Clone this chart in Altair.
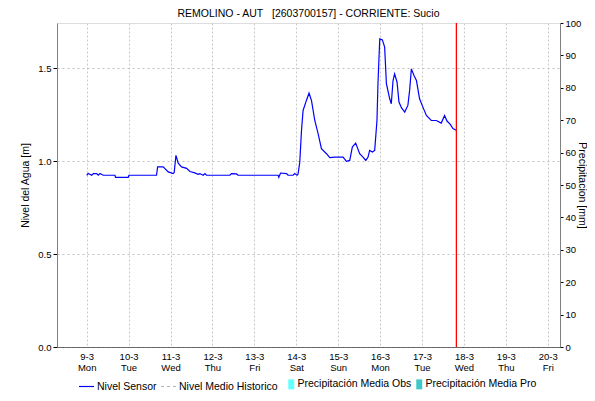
import altair as alt
import pandas as pd

TITLE = "REMOLINO - AUT\u00a0\u00a0\u00a0[2603700157] - CORRIENTE: Sucio"
START = "2026-03-09 00:00"
FONT = "Liberation Sans"

# hours since 9-3 00:00 and water level [m]
hours = [0, 0.9, 2.9, 3.8, 5.7, 6.6, 7.6, 9.5, 16.2, 16.5, 23.8, 24.2, 40.0, 40.6,
         43.8, 46.7, 49.5, 50.1, 51.1, 52.4, 54.3, 57.2, 59.1, 61.9, 63.8, 64.8,
         66.7, 67.7, 68.6, 82.0, 82.9, 85.8, 86.7, 109.6, 110.0, 111.0, 114.4,
         115.3, 118.2, 119.1, 120.5, 121.0, 122.0, 123.0, 123.9, 125.8, 127.3,
         128.7, 130.6, 132.5, 134.4, 137.3, 139.2, 142.0, 146.8, 148.7, 150.6,
         152.1, 154.0, 156.3, 158.2, 159.8, 161.1, 162.0, 163.6, 164.9, 166.2,
         166.8, 167.8, 169.3, 170.6, 171.6, 173.5, 174.4, 175.4, 176.3, 177.7,
         178.8, 180.2, 182.1, 183.9, 184.9, 185.9, 187.4, 188.8, 190.6, 192.5,
         194.5, 197.3, 200.2, 203.0, 204.9, 206.3, 208.2, 209.7, 211.6]
nivel = [0.925, 0.934, 0.925, 0.934, 0.934, 0.925, 0.934, 0.925, 0.925, 0.914,
         0.914, 0.925, 0.925, 0.970, 0.970, 0.943, 0.934, 0.940, 1.032, 0.990,
         0.970, 0.962, 0.945, 0.938, 0.930, 0.934, 0.925, 0.934, 0.925, 0.925,
         0.934, 0.932, 0.925, 0.925, 0.914, 0.937, 0.934, 0.925, 0.925, 0.934,
         0.925, 0.930, 0.996, 1.167, 1.274, 1.328, 1.367, 1.328, 1.220, 1.149,
         1.068, 1.041, 1.020, 1.023, 1.023, 1.000, 1.005, 1.077, 1.098, 1.041,
         1.023, 1.005, 1.023, 1.059, 1.050, 1.059, 1.220, 1.426, 1.660, 1.654,
         1.615, 1.418, 1.337, 1.310, 1.435, 1.471, 1.426, 1.319, 1.289, 1.265,
         1.301, 1.382, 1.498, 1.462, 1.435, 1.337, 1.292, 1.247, 1.220, 1.220,
         1.206, 1.247, 1.217, 1.199, 1.176, 1.167]
assert len(hours) == len(nivel)

now_time = ["2026-03-17T19:40:00"]
day_ticks = [9, 10, 11, 12, 13, 14, 15, 16, 17, 18, 19, 20]
level_ticks = [0.0, 0.5, 1.0, 1.5]
precip_ticks = [0, 10, 20, 30, 40, 50, 60, 70, 80, 90, 100]

line_items = ["Nivel Sensor", "Nivel Medio Historico"]
line_colors = ["#0000ff", "#b4b4b4"]
line_shapes = [
    "M-1,-0.08H1V0.08H-1Z",
    "M-1,-0.08H-0.6V0.08H-1Z M-0.2,-0.08H0.2V0.08H-0.2Z M0.6,-0.08H1V0.08H0.6Z",
]
box_items = ["Precipitación Media Obs", "Precipitación Media Pro"]
box_colors = ["#66ffff", "#40c8c8"]
BOX_PATH = "M-0.6,-1H0.6V1H-0.6Z"

base = pd.Timestamp(START)
df = pd.DataFrame({
    "t": [(base + pd.Timedelta(hours=h)).strftime("%Y-%m-%dT%H:%M:%S") for h in hours],
    "nivel": nivel,
})
df_now = pd.DataFrame({"t": now_time})
# legend-only series (lie outside the visible time window, clipped away)
df_leg_lines = pd.DataFrame({"t": ["2026-03-01T00:00:00"] * 2, "item": line_items})
df_leg_boxes = pd.DataFrame({"t": ["2026-03-01T00:00:00"] * 2, "p": [0, 0], "item": box_items})

x_dom = [alt.DateTime(year=2026, month=3, date=8, hours=7),
         alt.DateTime(year=2026, month=3, date=20, hours=7)]
x_scale = alt.Scale(domain=x_dom, nice=False)

x_axis = alt.Axis(
    values=[alt.DateTime(year=2026, month=3, date=d) for d in day_ticks],
    labelExpr="[timeFormat(datum.value, '%-d-%-m'), timeFormat(datum.value, '%a')]",
    title=None, ticks=False, grid=True, gridDash=[2, 2], gridColor="#c8c8c8",
    domainColor="#000000", domainDash=[1, 1], labelFontSize=9.5, labelLineHeight=11.5,
    labelPadding=4, labelOverlap=False, labelColor="black", labelFont=FONT,
)

line = alt.Chart(df).mark_line(color="#0000ff", strokeWidth=1.2, clip=True).encode(
    x=alt.X("t:T", scale=x_scale, axis=x_axis),
    y=alt.Y("nivel:Q", scale=alt.Scale(domain=[0, 1.745], nice=False, zero=True),
            axis=alt.Axis(values=level_ticks, format=".1f", title="Nivel del Agua [m]",
                          grid=True, gridDash=[2, 3], gridColor="#c0c0c0",
                          tickColor="black", tickSize=4, domainColor="#808080",
                          labelFontSize=9.5, labelFont=FONT, labelColor="black",
                          labelPadding=2,
                          titleFont=FONT, titleFontSize=10.5, titleFontWeight="normal",
                          titleColor="black", titleX=-32, titleY=162, titleAngle=270,
                          titleAlign="center", titleBaseline="middle")),
)

now_rule = alt.Chart(df_now).mark_rule(color="#ff0000", strokeWidth=1.3).encode(
    x=alt.X("t:T", scale=x_scale)
)

leg_common = dict(orient="none", legendY=356, direction="horizontal", title=None,
                  labelFontSize=10.5, labelFont=FONT, labelColor="black", padding=0)
line_legend = dict(legendX=22, symbolSize=225, symbolStrokeWidth=0,
                   columnPadding=4, labelOffset=3, **leg_common)

legend_lines = alt.Chart(df_leg_lines).mark_point(filled=True, clip=True, opacity=1,
                                                   size=225).encode(
    x=alt.X("t:T", scale=x_scale),
    y=alt.value(300),
    color=alt.Color("item:N", scale=alt.Scale(domain=line_items, range=line_colors),
                    legend=alt.Legend(**line_legend)),
    shape=alt.Shape("item:N", scale=alt.Scale(domain=line_items, range=line_shapes),
                    legend=alt.Legend(**line_legend)),
)

legend_boxes = alt.Chart(df_leg_boxes).mark_point(filled=True, clip=True, opacity=1,
                                                   shape=BOX_PATH, size=100).encode(
    x=alt.X("t:T", scale=x_scale),
    y=alt.Y("p:Q", scale=alt.Scale(domain=[0, 100], nice=False),
            axis=alt.Axis(orient="right", values=precip_ticks, title="Precipitacion [mm]",
                          grid=False, tickColor="black", tickSize=3, domainColor="#808080",
                          labelFontSize=9.5, labelFont=FONT, labelColor="black",
                          labelPadding=2,
                          titleFont=FONT, titleFontSize=10.5, titleFontWeight="normal",
                          titleColor="black", titleX=21, titleY=162, titleAngle=90,
                          titleAlign="center", titleBaseline="middle")),
    fill=alt.Fill("item:N", scale=alt.Scale(domain=box_items, range=box_colors),
                  legend=alt.Legend(legendX=229, symbolType=BOX_PATH, symbolSize=100,
                                    symbolStrokeWidth=0, columnPadding=2, labelOffset=1,
                                    **leg_common)),
)

chart = alt.layer(line, now_rule, legend_lines, legend_boxes).resolve_scale(
    y="independent"
).properties(
    width=503, height=324,
    autosize="none",
    padding={"left": 49, "top": 15, "right": 27, "bottom": 46},
    title=alt.TitleParams(TITLE, fontSize=10.5, fontWeight="normal", font=FONT,
                          anchor="middle", offset=4, dy=5, color="black"),
).configure_view(stroke="#808080").configure(background="white")

chart.save("out.html", embed_options={"renderer": "svg", "actions": False})
